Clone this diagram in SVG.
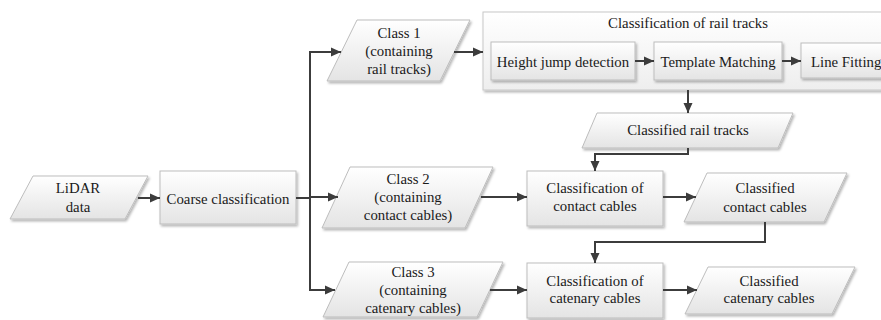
<svg xmlns="http://www.w3.org/2000/svg" width="881" height="320" viewBox="0 0 881 320" font-family="'Liberation Serif', 'DejaVu Serif', serif">
<defs>
<linearGradient id="g" x1="0" y1="0" x2="0" y2="1">
<stop offset="0" stop-color="#ffffff"/>
<stop offset="1" stop-color="#e4e4e4"/>
</linearGradient>
<linearGradient id="gc" x1="0" y1="0" x2="0" y2="1">
<stop offset="0" stop-color="#ffffff"/>
<stop offset="1" stop-color="#eeeeee"/>
</linearGradient>
<filter id="sh" x="-10%" y="-10%" width="130%" height="140%">
<feDropShadow dx="1.5" dy="2" stdDeviation="1.2" flood-color="#000" flood-opacity="0.28"/>
</filter>
<marker id="ar" viewBox="0 0 10 10" refX="10" refY="5" markerWidth="10" markerHeight="10" markerUnits="userSpaceOnUse" orient="auto">
<path d="M0,0.5 L10,5 L0,9.5 Z" fill="#3c3c3c"/>
</marker>
</defs>
<style>
.n{fill:url(#g);stroke:#bdbdbd;stroke-width:1;filter:url(#sh)}
.c{fill:url(#gc);stroke:#c8c8c8;stroke-width:1;filter:url(#sh)}
text{font-family:'Liberation Serif','DejaVu Serif',serif;font-size:14.8px;fill:#1a1a1a;text-anchor:middle}
.e{fill:none;stroke:#3c3c3c;stroke-width:2}
.a{marker-end:url(#ar)}
</style>

<g id="container-rail">
<rect class="c" x="483" y="12" width="412" height="78"/>
<text x="688" y="28">Classification of rail tracks</text>
</g>

<g id="lidar">
<polygon class="n" points="33,176 148,176 125,219 10,219"/>
<text x="78" y="193">LiDAR</text>
<text x="78" y="212">data</text>
</g>
<g id="coarse">
<rect class="n" x="160" y="171" width="136" height="53"/>
<text x="228" y="204">Coarse classification</text>
</g>
<g id="class1">
<polygon class="n" points="357,20 470,20 440,81 327,81"/>
<text x="399" y="38">Class 1</text>
<text x="399" y="56">(containing</text>
<text x="399" y="74">rail tracks)</text>
</g>
<g id="class2">
<polygon class="n" points="350,167 493,167 465,228 322,228"/>
<text x="408" y="184">Class 2</text>
<text x="408" y="202">(containing</text>
<text x="408" y="220">contact cables)</text>
</g>
<g id="class3">
<polygon class="n" points="349,262 503,262 477,317 323,317"/>
<text x="413" y="277">Class 3</text>
<text x="413" y="295">(containing</text>
<text x="413" y="313">catenary cables)</text>
</g>
<g id="height-jump">
<rect class="n" x="491" y="42" width="144" height="38"/>
<text x="563" y="67">Height jump detection</text>
</g>
<g id="template">
<rect class="n" x="654" y="42" width="128" height="38"/>
<text x="718" y="67">Template Matching</text>
</g>
<g id="line-fitting">
<rect class="n" x="801" y="43" width="94" height="35"/>
<text x="811" y="67" style="text-anchor:start">Line Fitting</text>
</g>
<g id="classified-rail">
<polygon class="n" points="597,113 793,113 778,148 582,148"/>
<text x="688" y="135">Classified rail tracks</text>
</g>
<g id="class-contact">
<rect class="n" x="527" y="171" width="136" height="55"/>
<text x="595" y="193">Classification of</text>
<text x="595" y="211">contact cables</text>
</g>
<g id="classified-contact">
<polygon class="n" points="707,173 847,173 824,222 684,222"/>
<text x="765" y="193">Classified</text>
<text x="765" y="212">contact cables</text>
</g>
<g id="class-catenary">
<rect class="n" x="527" y="263" width="136" height="55"/>
<text x="595" y="286">Classification of</text>
<text x="595" y="303">catenary cables</text>
</g>
<g id="classified-catenary">
<polygon class="n" points="708,267 855,267 832,314 685,314"/>
<text x="769" y="286">Classified</text>
<text x="769" y="303">catenary cables</text>
</g>

<g id="connectors">
<path class="e a" d="M138,198 H160"/>
<path class="e" d="M296,198 H310 M310,51 V291"/>
<path class="e a" d="M309,52 H341"/>
<path class="e a" d="M310,197 H338"/>
<path class="e a" d="M309,290 H335"/>
<path class="e a" d="M454,52 H483"/>
<path class="e a" d="M635,61 H654"/>
<path class="e a" d="M782,61 H801"/>
<path class="e a" d="M688,90 V113"/>
<path class="e a" d="M688,148 V154 H595 V171"/>
<path class="e a" d="M481,197 H527"/>
<path class="e a" d="M663,197 H696"/>
<path class="e a" d="M765,222 V242 H595 V263"/>
<path class="e a" d="M490,290 H527"/>
<path class="e a" d="M663,290 H697"/>
</g>
</svg>
